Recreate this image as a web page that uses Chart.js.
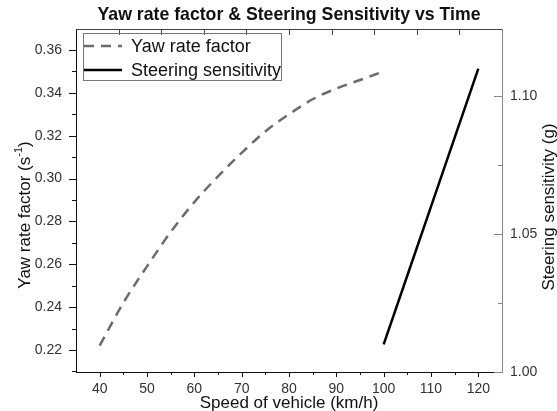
<!DOCTYPE html>
<html lang="en">
<head>
<meta charset="UTF-8">
<title>Yaw rate factor &amp; Steering Sensitivity vs Time</title>
<script src="https://cdn.jsdelivr.net/npm/chart.js"></script>
<style>
  body { margin: 0; background: #ffffff; }
</style>
</head>
<body>
<canvas id="chart" width="557" height="411"></canvas>
<script>
// data
const speedYaw = [40, 45, 50, 55, 60, 65, 70, 75, 80, 85, 90, 95, 100];
const yawRate = [0.222, 0.242, 0.259, 0.275, 0.289, 0.301, 0.312, 0.322, 0.330, 0.337, 0.342, 0.346, 0.350];
const speedSteer = [100, 105, 110, 115, 120];
const steerSens = [1.010, 1.035, 1.060, 1.085, 1.110];

// axes
const xTicks = [40, 50, 60, 70, 80, 90, 100, 110, 120];
const xMinor = [45, 55, 65, 75, 85, 95, 105, 115];
const xTopTicks = [44, 53, 62, 71, 80, 89, 98, 107, 116];
const yawTicks = [0.22, 0.24, 0.26, 0.28, 0.30, 0.32, 0.34, 0.36];
const yawMinor = [0.21, 0.23, 0.25, 0.27, 0.29, 0.31, 0.33, 0.35];
const steerTicks = [1.00, 1.05, 1.10];
const steerMinor = [1.025, 1.075];

const FONT = "Arial, 'Liberation Sans', sans-serif";

function fixedTicks(values) {
    return function (scale) {
        scale.ticks = values.map(v => ({ value: v }));
    };
}

function seg(ctx, x1, y1, x2, y2) {
    ctx.beginPath();
    ctx.moveTo(x1, y1);
    ctx.lineTo(x2, y2);
    ctx.stroke();
}

// ticks, frame, titles and legend drawn on top of the chart
const framePlugin = {
    id: 'frame',
    afterDraw(chart) {
        const ctx = chart.ctx;
        const a = chart.chartArea;
        const { x, y, y2 } = chart.scales;
        ctx.save();

        // top border with inward ticks
        ctx.strokeStyle = '#444444';
        ctx.lineWidth = 1;
        seg(ctx, a.left, a.top + 0.5, a.right, a.top + 0.5);
        xTopTicks.forEach(v => {
            const px = Math.round(x.getPixelForValue(v)) + 0.5;
            seg(ctx, px, a.top, px, a.top + 6);
        });

        // bottom ticks (outward)
        ctx.strokeStyle = '#111111';
        xTicks.forEach(v => {
            const px = Math.round(x.getPixelForValue(v)) + 0.5;
            seg(ctx, px, a.bottom, px, a.bottom + 5);
        });
        xMinor.forEach(v => {
            const px = Math.round(x.getPixelForValue(v)) + 0.5;
            seg(ctx, px, a.bottom, px, a.bottom + 3);
        });

        // left ticks (outward)
        yawTicks.forEach(v => {
            const py = Math.round(y.getPixelForValue(v)) + 0.5;
            seg(ctx, a.left - 7, py, a.left, py);
        });
        yawMinor.forEach(v => {
            const py = Math.round(y.getPixelForValue(v)) + 0.5;
            seg(ctx, a.left - 4, py, a.left, py);
        });

        // right ticks (inward, grey)
        ctx.strokeStyle = '#888888';
        steerTicks.forEach(v => {
            const py = Math.round(y2.getPixelForValue(v)) + 0.5;
            seg(ctx, a.right - 8, py, a.right, py);
        });
        steerMinor.forEach(v => {
            const py = Math.round(y2.getPixelForValue(v)) + 0.5;
            seg(ctx, a.right - 4, py, a.right, py);
        });

        const mid = (a.left + a.right) / 2;
        ctx.fillStyle = '#111111';
        ctx.textAlign = 'center';
        ctx.textBaseline = 'middle';

        // chart title
        ctx.font = 'bold 17.7px ' + FONT;
        ctx.fillText('Yaw rate factor & Steering Sensitivity vs Time', mid, 15);

        // x axis title
        ctx.font = '17px ' + FONT;
        ctx.fillText('Speed of vehicle (km/h)', mid, 403);

        // left axis title with superscript
        ctx.save();
        ctx.translate(25, 215);
        ctx.rotate(-Math.PI / 2);
        const mainTxt = 'Yaw rate factor (s';
        const supTxt = '-1';
        ctx.font = '17px ' + FONT;
        const w1 = ctx.measureText(mainTxt).width;
        const w3 = ctx.measureText(')').width;
        ctx.font = '11px ' + FONT;
        const w2 = ctx.measureText(supTxt).width;
        let sx = -(w1 + w2 + w3) / 2;
        ctx.textAlign = 'left';
        ctx.font = '17px ' + FONT;
        ctx.fillText(mainTxt, sx, 0);
        ctx.font = '11px ' + FONT;
        ctx.fillText(supTxt, sx + w1, -6);
        ctx.font = '17px ' + FONT;
        ctx.fillText(')', sx + w1 + w2, 0);
        ctx.restore();

        // right axis title
        ctx.save();
        ctx.translate(549, 207);
        ctx.rotate(-Math.PI / 2);
        ctx.font = '17px ' + FONT;
        ctx.fillText('Steering sensitivity (g)', 0, 0);
        ctx.restore();

        // legend box
        const lx = 83, ly = 33, lw = 198, lh = 47;
        ctx.strokeStyle = '#777777';
        ctx.lineWidth = 1;
        ctx.strokeRect(lx + 0.5, ly + 0.5, lw, lh);
        ctx.textAlign = 'left';
        ctx.font = '18px ' + FONT;
        chart.data.datasets.forEach((ds, i) => {
            const ry = ly + 13 + i * 24;
            ctx.strokeStyle = ds.borderColor;
            ctx.lineWidth = ds.borderWidth;
            ctx.setLineDash(ds.borderDash || []);
            seg(ctx, lx + 1, ry, lx + 39, ry);
            ctx.setLineDash([]);
            ctx.fillStyle = '#111111';
            ctx.fillText(ds.label, lx + 48, ry + 1);
        });

        ctx.restore();
    }
};

new Chart(document.getElementById('chart'), {
    type: 'line',
    data: {
        datasets: [
            {
                label: 'Yaw rate factor',
                data: speedYaw.map((v, i) => ({ x: v, y: yawRate[i] })),
                xAxisID: 'x',
                yAxisID: 'y',
                borderColor: '#6b6b6b',
                borderWidth: 2.5,
                borderDash: [10, 7],
                pointRadius: 0,
                cubicInterpolationMode: 'monotone',
                fill: false
            },
            {
                label: 'Steering sensitivity',
                data: speedSteer.map((v, i) => ({ x: v, y: steerSens[i] })),
                xAxisID: 'x',
                yAxisID: 'y2',
                borderColor: '#000000',
                borderWidth: 2.5,
                pointRadius: 0,
                fill: false
            }
        ]
    },
    options: {
        responsive: false,
        animation: false,
        layout: { padding: { top: 29, left: 0, right: 0, bottom: 0 } },
        plugins: {
            legend: { display: false },
            title: { display: false },
            tooltip: { enabled: false }
        },
        scales: {
            x: {
                type: 'linear',
                position: 'bottom',
                min: 35,
                max: 125,
                afterBuildTicks: fixedTicks(xTicks),
                afterFit(scale) { scale.height = 39; },
                grid: { display: false, drawTicks: false },
                border: { display: true, color: '#111111', width: 1 },
                ticks: { padding: 9, color: '#333333', font: { family: FONT, size: 14 } }
            },
            y: {
                type: 'linear',
                position: 'left',
                min: 0.2097,
                max: 0.3698,
                afterBuildTicks: fixedTicks(yawTicks),
                afterFit(scale) { scale.width = 76; },
                grid: { display: false, drawTicks: false },
                border: { display: true, color: '#111111', width: 1 },
                ticks: {
                    padding: 14,
                    color: '#333333',
                    font: { family: FONT, size: 14 },
                    callback: v => v.toFixed(2)
                }
            },
            y2: {
                type: 'linear',
                position: 'right',
                min: 1.0,
                max: 1.1244,
                afterBuildTicks: fixedTicks(steerTicks),
                afterFit(scale) { scale.width = 55; },
                grid: { display: false, drawTicks: false },
                border: { display: true, color: '#888888', width: 1 },
                ticks: {
                    padding: 8,
                    color: '#333333',
                    font: { family: FONT, size: 14 },
                    callback: v => v.toFixed(2)
                }
            }
        }
    },
    plugins: [framePlugin]
});
</script>
</body>
</html>
